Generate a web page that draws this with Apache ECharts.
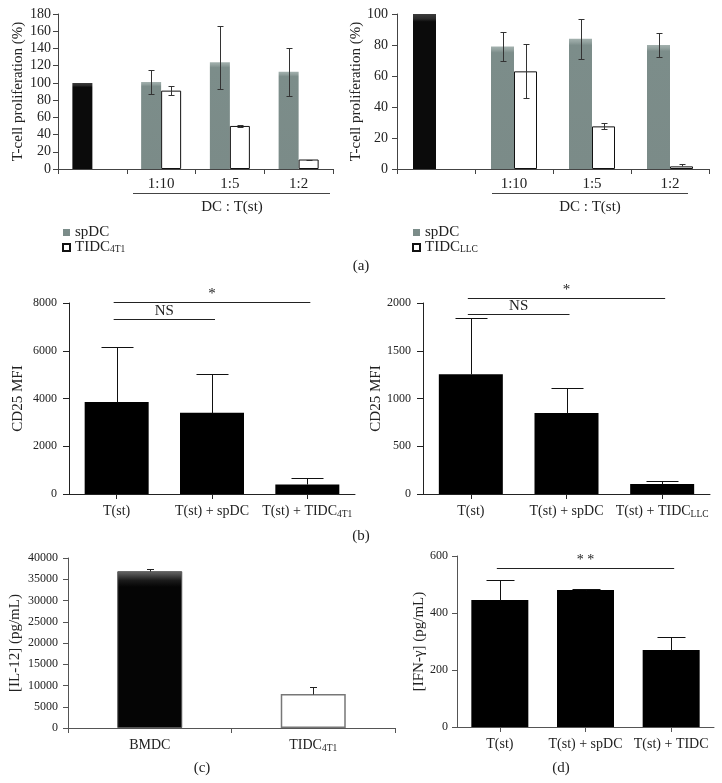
<!DOCTYPE html>
<html>
<head>
<meta charset="utf-8">
<script src="https://cdn.jsdelivr.net/npm/echarts@6/dist/echarts.min.js"></script>
<style>
html,body{margin:0;padding:0;background:#fff;}
#chart{width:722px;height:783px;}
</style>
</head>
<body>
<div id="chart"></div>
<script>
// ---------- DATA ----------
// Panel (a) left: 4T1
const catsA = ['', '1:10', '1:5', '1:2'];
const spdc4T1 = [100, 101, 124, 113];
const spdc4T1ErrUp = [null, 14, 42, 28];
const spdc4T1ErrDn = [null, 14, 31, 28];
const tidc4T1 = [null, 91, 50, 11];
const tidc4T1ErrUp = [null, 5, 1, 0];
const tidc4T1ErrDn = [null, 5, 1, 0];
const ticksA1 = {min: 0, max: 180, interval: 20};
// Panel (a) right: LLC
const spdcLLC = [100, 79, 84, 80];
const spdcLLCErrUp = [null, 9.5, 13, 7.5];
const spdcLLCErrDn = [null, 9.5, 13, 7.5];
const tidcLLC = [null, 63, 27.5, 1.7];
const tidcLLCErrUp = [null, 17.5, 2, 1.3];
const tidcLLCErrDn = [null, 17.5, 2, 0];
const ticksA2 = {min: 0, max: 100, interval: 20};
// Panel (b)
const catsB1 = ['T(st)', 'T(st) + spDC', 'T(st) + TIDC{s|4T1}'];
const cd25_4T1 = [3850, 3400, 400];
const cd25_4T1Err = [2300, 1630, 280];
const ticksB1 = {min: 0, max: 8000, interval: 2000};
const sigB1From = [0, 0], sigB1To = [2, 1], sigB1Y = [8040, 7330], sigB1Label = ['*', 'NS'];
const catsB2 = ['T(st)', 'T(st) + spDC', 'T(st) + TIDC{s|LLC}'];
const cd25_LLC = [1254, 849, 105];
const cd25_LLCErr = [590, 262, 31];
const ticksB2 = {min: 0, max: 2000, interval: 500};
const sigB2From = [0, 0], sigB2To = [2, 1], sigB2Y = [2050, 1890], sigB2Label = ['*', 'NS'];
// Panel (c)
const catsC = ['BMDC', 'TIDC{s|4T1}'];
const il12 = [36900, 8000];
const il12Err = [400, 1600];
const ticksC = {min: 0, max: 40000, interval: 5000};
// Panel (d)
const catsD = ['T(st)', 'T(st) + spDC', 'T(st) + TIDC'];
const ifng = [446, 481, 270];
const ifngErr = [70, 4, 47];
const ticksD = {min: 0, max: 600, interval: 200};
const sigDFrom = [0], sigDTo = [2], sigDY = [558], sigDLabel = ['* *'];

// ---------- STYLE ----------
const FONT = 'Liberation Serif';
const TXT = '#222';
const sub = {fontSize: 9.5, fontFamily: FONT, color: TXT, verticalAlign: 'bottom', padding: [5, 0, 0, 0]};
const greyFill = new echarts.graphic.LinearGradient(0, 0, 0, 1, [
  {offset: 0, color: '#a3b1ae'}, {offset: 0.025, color: '#93a29f'},
  {offset: 0.05, color: '#7c8d8a'}, {offset: 1, color: '#7b8b88'}]);
const blackTopFill = new echarts.graphic.LinearGradient(0, 0, 0, 1, [
  {offset: 0, color: '#3c3c3c'}, {offset: 0.03, color: '#2a2a2a'},
  {offset: 0.05, color: '#0b0b0b'}, {offset: 1, color: '#0b0b0b'}]);
const bmdcFill = new echarts.graphic.LinearGradient(0, 0, 0, 1, [
  {offset: 0, color: '#6a6a6a'}, {offset: 0.06, color: '#1a1a1a'},
  {offset: 0.1, color: '#050505'}, {offset: 1, color: '#050505'}]);

const grids = [
  {left: 58, top: 14, width: 275, height: 155},
  {left: 397, top: 14, width: 312, height: 155},
  {left: 69, top: 303, width: 286, height: 191},
  {left: 423, top: 303, width: 287, height: 191},
  {left: 68, top: 558, width: 327, height: 170},
  {left: 457, top: 556, width: 257, height: 171}
].map(g => Object.assign({outerBoundsMode: 'none', containLabel: false}, g));

function xAx(gi, data, o) {
  return {
    type: 'category', gridIndex: gi, data: data,
    axisLine: {show: true, lineStyle: {color: o.lineColor || '#333', width: 1}},
    axisTick: {show: true, length: o.tickLen || 5, alignWithLabel: !!o.align, lineStyle: {color: o.lineColor || '#333'}},
    axisLabel: {show: true, interval: 0, margin: o.margin, fontFamily: FONT, fontSize: o.fontSize || 15, color: TXT,
      rich: {s: sub}},
    splitLine: {show: false}
  };
}
function yAx(gi, t, o) {
  return {
    type: 'value', gridIndex: gi, min: t.min, max: t.max, interval: t.interval,
    name: o.name, nameLocation: 'middle', nameRotate: 90, nameGap: o.nameGap,
    nameTextStyle: {fontFamily: FONT, fontSize: o.nameSize || 15, color: TXT},
    axisLine: {show: true, lineStyle: {color: o.lineColor || '#333', width: 1}},
    axisTick: {show: true, length: o.tickLen || 5, lineStyle: {color: o.lineColor || '#333'}},
    axisLabel: {fontFamily: FONT, fontSize: o.fontSize || 12, color: TXT, margin: o.margin,
      formatter: v => String(v)},
    splitLine: {show: false}
  };
}

function errData(mean, up, dn) {
  const out = [];
  mean.forEach((m, i) => {
    if (m == null || up[i] == null) return;
    out.push([i, m, up[i], dn ? dn[i] : 0]);
  });
  return out;
}
function errSeries(gi, data, offset, capHalf, color) {
  return {
    type: 'custom', xAxisIndex: gi, yAxisIndex: gi, z: 10, clip: false, silent: true,
    data: data,
    encode: {x: 0, y: 1},
    renderItem: function (params, api) {
      const i = api.value(0), m = api.value(1), up = api.value(2), dn = api.value(3);
      const p0 = api.coord([i, m]);
      const pT = api.coord([i, m + up]);
      const pB = api.coord([i, m - dn]);
      const x = Math.round(p0[0] + offset) + 0.5;
      const yT = Math.round(pT[1]) + 0.5, yB = Math.round(pB[1]) + 0.5;
      const st = {stroke: color, lineWidth: 1};
      const ch = [
        {type: 'line', shape: {x1: x, y1: yB, x2: x, y2: yT}, style: st},
        {type: 'line', shape: {x1: x - capHalf, y1: yT, x2: x + capHalf, y2: yT}, style: st}
      ];
      if (dn > 0) ch.push({type: 'line', shape: {x1: x - capHalf, y1: yB, x2: x + capHalf, y2: yB}, style: st});
      return {type: 'group', children: ch};
    }
  };
}
function sigSeries(gi, from, to, ys, labels, fontSize) {
  return {
    type: 'custom', xAxisIndex: gi, yAxisIndex: gi, z: 10, clip: false, silent: true,
    data: from.map((f, k) => [f, ys[k], to[k]]),
    encode: {x: 0, y: 1},
    renderItem: function (params, api) {
      const a = api.coord([api.value(0), api.value(1)]);
      const b = api.coord([api.value(2), api.value(1)]);
      const y = Math.round(a[1]) + 0.5;
      return {type: 'group', children: [
        {type: 'line', shape: {x1: a[0] - 3, y1: y, x2: b[0] + 3, y2: y}, style: {stroke: '#222', lineWidth: 1}},
        {type: 'text', x: (a[0] + b[0]) / 2, y: y - 1,
          style: {text: labels[params.dataIndex], fontFamily: FONT, fontSize: fontSize, fill: TXT,
            align: 'center', verticalAlign: 'bottom'}}
      ]};
    }
  };
}

const legendText = {fontFamily: FONT, fontSize: 15, color: TXT, lineHeight: 14, rich: {s: sub}};
const legendFmt = n => n === 'TIDC4T1' ? 'TIDC{s|4T1}' : (n === 'TIDCLLC' ? 'TIDC{s|LLC}' : n);

const option = {
  animation: false,
  backgroundColor: '#fff',
  grid: grids,
  legend: [
    {left: 57, top: 220, orient: 'vertical', icon: 'rect', itemWidth: 7, itemHeight: 7, itemGap: 0, selectedMode: false,
      data: ['spDC', 'TIDC4T1'], formatter: legendFmt, textStyle: legendText},
    {left: 407, top: 220, orient: 'vertical', icon: 'rect', itemWidth: 7, itemHeight: 7, itemGap: 0, selectedMode: false,
      data: ['spDC', 'TIDCLLC'], formatter: legendFmt, textStyle: legendText}
  ],
  xAxis: [
    xAx(0, catsA, {margin: 8, lineColor: '#444'}),
    xAx(1, catsA, {margin: 8, lineColor: '#444'}),
    xAx(2, catsB1, {margin: 10, align: true, lineColor: '#222', fontSize: 14}),
    xAx(3, catsB2, {margin: 10, align: true, lineColor: '#222', fontSize: 14}),
    xAx(4, catsC, {margin: 10, lineColor: '#555', fontSize: 14}),
    xAx(5, catsD, {margin: 10, align: true, lineColor: '#555', fontSize: 14})
  ],
  yAxis: [
    yAx(0, ticksA1, {name: 'T-cell proliferation (%)', nameGap: 32, margin: 7, lineColor: '#444', fontSize: 14}),
    yAx(1, ticksA2, {name: 'T-cell proliferation (%)', nameGap: 23, margin: 9, lineColor: '#444', fontSize: 14}),
    yAx(2, ticksB1, {name: 'CD25 MFI', nameGap: 43, margin: 12, lineColor: '#222', fontSize: 12, tickLen: 6}),
    yAx(3, ticksB2, {name: 'CD25 MFI', nameGap: 39, margin: 12, lineColor: '#222', fontSize: 12, tickLen: 6}),
    yAx(4, ticksC, {name: '[IL-12] (pg/mL)', nameGap: 45, margin: 10, lineColor: '#555', fontSize: 12}),
    yAx(5, ticksD, {name: '[IFN-\u03b3] (pg/mL)', nameGap: 29, margin: 9, lineColor: '#555', fontSize: 12})
  ],
  series: [
    // (a) left
    {name: 'spDC', type: 'bar', xAxisIndex: 0, yAxisIndex: 0, barWidth: 20, barGap: '0%',
      itemStyle: {color: greyFill},
      data: spdc4T1.map((v, i) => i === 0 ? {value: v, itemStyle: {color: blackTopFill}} : v)},
    {name: 'TIDC4T1', type: 'bar', xAxisIndex: 0, yAxisIndex: 0, barWidth: 20, barGap: '0%',
      itemStyle: {color: '#fff', borderColor: '#111', borderWidth: 1},
      data: tidc4T1.map(v => v == null ? '-' : v)},
    errSeries(0, errData(spdc4T1, spdc4T1ErrUp, spdc4T1ErrDn), -10, 3, '#333'),
    errSeries(0, errData(tidc4T1, tidc4T1ErrUp, tidc4T1ErrDn), 10, 3, '#333'),
    // (a) right
    {name: 'spDC', type: 'bar', xAxisIndex: 1, yAxisIndex: 1, barWidth: 23, barGap: '0%',
      itemStyle: {color: greyFill},
      data: spdcLLC.map((v, i) => i === 0 ? {value: v, itemStyle: {color: blackTopFill}} : v)},
    {name: 'TIDCLLC', type: 'bar', xAxisIndex: 1, yAxisIndex: 1, barWidth: 23, barGap: '0%',
      itemStyle: {color: '#fff', borderColor: '#111', borderWidth: 1},
      data: tidcLLC.map(v => v == null ? '-' : v)},
    errSeries(1, errData(spdcLLC, spdcLLCErrUp, spdcLLCErrDn), -11.5, 3, '#333'),
    errSeries(1, errData(tidcLLC, tidcLLCErrUp, tidcLLCErrDn), 11.5, 3, '#333'),
    // (b) left
    {type: 'bar', xAxisIndex: 2, yAxisIndex: 2, barWidth: 64, itemStyle: {color: '#000'}, data: cd25_4T1},
    errSeries(2, errData(cd25_4T1, cd25_4T1Err, null), 0, 16, '#111'),
    sigSeries(2, sigB1From, sigB1To, sigB1Y, sigB1Label, 15),
    // (b) right
    {type: 'bar', xAxisIndex: 3, yAxisIndex: 3, barWidth: 64, itemStyle: {color: '#000'}, data: cd25_LLC},
    errSeries(3, errData(cd25_LLC, cd25_LLCErr, null), 0, 16, '#111'),
    sigSeries(3, sigB2From, sigB2To, sigB2Y, sigB2Label, 15),
    // (c)
    {type: 'bar', xAxisIndex: 4, yAxisIndex: 4, barWidth: 65,
      data: il12.map((v, i) => i === 0
        ? {value: v, itemStyle: {color: bmdcFill, borderColor: '#555', borderWidth: 1}}
        : {value: v, itemStyle: {color: '#fff', borderColor: '#777', borderWidth: 1.5}})},
    errSeries(4, errData(il12, il12Err, null), 0, 3.5, '#222'),
    // (d)
    {type: 'bar', xAxisIndex: 5, yAxisIndex: 5, barWidth: 57, itemStyle: {color: '#000'}, data: ifng},
    errSeries(5, errData(ifng, ifngErr, null), 0, 14, '#111'),
    sigSeries(5, sigDFrom, sigDTo, sigDY, sigDLabel, 14)
  ],
  graphic: [
    {type: 'line', shape: {x1: 133, y1: 193.5, x2: 330, y2: 193.5}, style: {stroke: '#444', lineWidth: 1}},
    {type: 'line', shape: {x1: 492, y1: 193.5, x2: 688, y2: 193.5}, style: {stroke: '#444', lineWidth: 1}},
    {type: 'text', x: 232, y: 207, style: {text: 'DC : T(st)', fontFamily: FONT, fontSize: 15, fill: TXT, align: 'center', verticalAlign: 'middle'}},
    {type: 'text', x: 590, y: 207, style: {text: 'DC : T(st)', fontFamily: FONT, fontSize: 15, fill: TXT, align: 'center', verticalAlign: 'middle'}},
    {type: 'text', x: 361, y: 266, style: {text: '(a)', fontFamily: FONT, fontSize: 15, fill: TXT, align: 'center', verticalAlign: 'middle'}},
    {type: 'text', x: 361, y: 536, style: {text: '(b)', fontFamily: FONT, fontSize: 15, fill: TXT, align: 'center', verticalAlign: 'middle'}},
    {type: 'text', x: 202, y: 768, style: {text: '(c)', fontFamily: FONT, fontSize: 15, fill: TXT, align: 'center', verticalAlign: 'middle'}},
    {type: 'text', x: 561, y: 768, style: {text: '(d)', fontFamily: FONT, fontSize: 15, fill: TXT, align: 'center', verticalAlign: 'middle'}}
  ]
};

const chart = echarts.init(document.getElementById('chart'), null, {renderer: 'canvas'});
chart.setOption(option);
</script>
</body>
</html>
